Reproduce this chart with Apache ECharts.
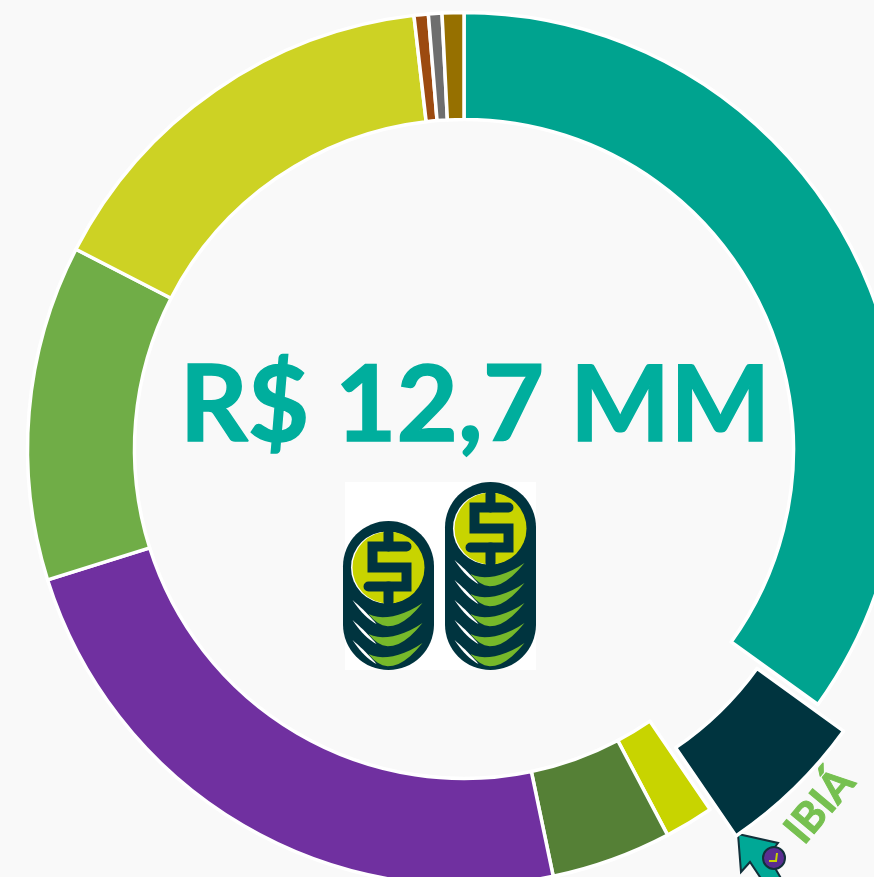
<!DOCTYPE html>
<html>
<head>
<meta charset="utf-8">
<style>
  html, body { margin: 0; padding: 0; background: #f9f9f9; }
  #chart { width: 874px; height: 877px; }
</style>
<script src="https://cdn.jsdelivr.net/npm/echarts@6/dist/echarts.min.js"></script>
</head>
<body>
<div id="chart"></div>
<script>
const cities = ['', 'IBIÁ', '', '', '', '', '', '', '', '']
const values = [4.44, 0.70, 0.23, 0.565, 2.976, 1.577, 1.982, 0.067, 0.0635, 0.102]
const colors = ['#00a38f', '#00343f', '#c8d400', '#558036', '#7030a0', '#70ad47', '#cdd224', '#9c4a10', '#6e6e6e', '#967000']
const totalLabel = 'R$ 12,7 MM'
const selectedCity = 'IBIÁ'

const dark = '#00343f'
const coinYellow = '#c8d400'
const coinGreen = '#76b82a'

// curva quadratica em pontos, o componente graphic nao aceita pathData
function quad(p0, c, p1) {
  const pts = []
  for (let t = 0; t <= 1.001; t += 0.1) {
    pts.push([
      (1 - t) * (1 - t) * p0[0] + 2 * t * (1 - t) * c[0] + t * t * p1[0],
      (1 - t) * (1 - t) * p0[1] + 2 * t * (1 - t) * c[1] + t * t * p1[1]
    ])
  }
  return pts
}

function crescent(a, c1, b, c2, fill) {
  return {
    type: 'polygon',
    shape: { points: quad(a, c1, b).concat(quad(b, c2, a)) },
    style: { fill: fill }
  }
}

// pilha de moedas desenhada como enfeite
function coinStack(cx, top, count) {
  const w = 91
  const bottom = 670
  const r = 36
  const cy = top + 46.5
  const items = [{
    type: 'rect',
    shape: { x: cx - w / 2, y: top, width: w, height: bottom - top, r: w / 2 },
    style: { fill: dark }
  }]
  for (let i = 0; i < count; i++) {
    const y = bottom - 21 - i * 20
    items.push(crescent([cx - 36, y - 9], [cx - 24, y + 9], [cx - 12, y + 15], [cx - 22, y + 3], '#ffffff'))
    items.push(crescent([cx - 20, y + 5], [cx + 2, y + 34], [cx + 34, y - 6], [cx + 2, y + 15], coinGreen))
  }
  items.push({
    type: 'circle',
    shape: { cx: cx - 1.5, cy: cy, r: r },
    style: { fill: '#ffffff' }
  })
  items.push({
    type: 'circle',
    shape: { cx: cx, cy: cy, r: r },
    style: { fill: coinYellow }
  })
  const stroke = { fill: 'none', stroke: dark, lineWidth: 10, lineCap: 'round' }
  items.push({
    type: 'polyline',
    shape: {
      points: [[cx + 18, cy - 21], [cx - 16, cy - 21], [cx - 16, cy], [cx + 18, cy], [cx + 18, cy + 19], [cx - 20, cy + 19]]
    },
    style: stroke
  })
  items.push({ type: 'line', shape: { x1: cx, y1: cy - 34, x2: cx, y2: cy - 21 }, style: stroke })
  items.push({ type: 'line', shape: { x1: cx, y1: cy + 19, x2: cx, y2: cy + 34 }, style: stroke })
  return items
}

const chart = echarts.init(document.getElementById('chart'))
chart.setOption({
  backgroundColor: '#f9f9f9',
  animation: false,
  series: [{
    type: 'pie',
    center: [464, 449],
    radius: [329.5, 436.5],
    startAngle: 90,
    clockwise: true,
    selectedMode: 'single',
    selectedOffset: 37,
    silent: true,
    itemStyle: { borderColor: '#ffffff', borderWidth: 3.5 },
    label: { show: false },
    labelLine: { show: false },
    data: values.map((v, i) => ({
      name: cities[i],
      value: v,
      selected: cities[i] === selectedCity,
      itemStyle: { color: colors[i] }
    }))
  }],
  graphic: [
    {
      type: 'text',
      x: 475,
      y: 407,
      style: {
        text: totalLabel,
        font: 'bold 106px Lato',
        fill: '#00ae9d',
        stroke: '#00ae9d',
        lineWidth: 1.5,
        align: 'center',
        verticalAlign: 'middle'
      }
    },
    {
      type: 'text',
      x: 820,
      y: 806,
      rotation: 50 * Math.PI / 180,
      style: {
        text: selectedCity,
        font: 'bold 42px Lato',
        fill: '#76c050',
        stroke: '#76c050',
        lineWidth: 1,
        align: 'center',
        verticalAlign: 'middle'
      }
    },
    {
      type: 'group',
      children: [
        { type: 'rect', shape: { x: 345, y: 482, width: 191, height: 188 }, style: { fill: '#ffffff' } },
        ...coinStack(388.5, 521, 3),
        ...coinStack(490.5, 482, 5)
      ]
    },
    {
      type: 'group',
      children: [
        {
          type: 'polygon',
          shape: { points: [[738, 834], [778, 843], [768, 856], [782, 880], [762, 880], [750, 862], [741, 872]] },
          style: { fill: '#00a896', stroke: '#12303a', lineWidth: 2 }
        },
        { type: 'circle', shape: { cx: 774, cy: 858, r: 11 }, style: { fill: '#5a2d91', stroke: '#12303a', lineWidth: 2 } },
        {
          type: 'polyline',
          shape: { points: [[769, 861], [776, 861], [777, 853]] },
          style: { fill: 'none', stroke: coinYellow, lineWidth: 2 }
        }
      ]
    }
  ]
})
</script>
</body>
</html>
